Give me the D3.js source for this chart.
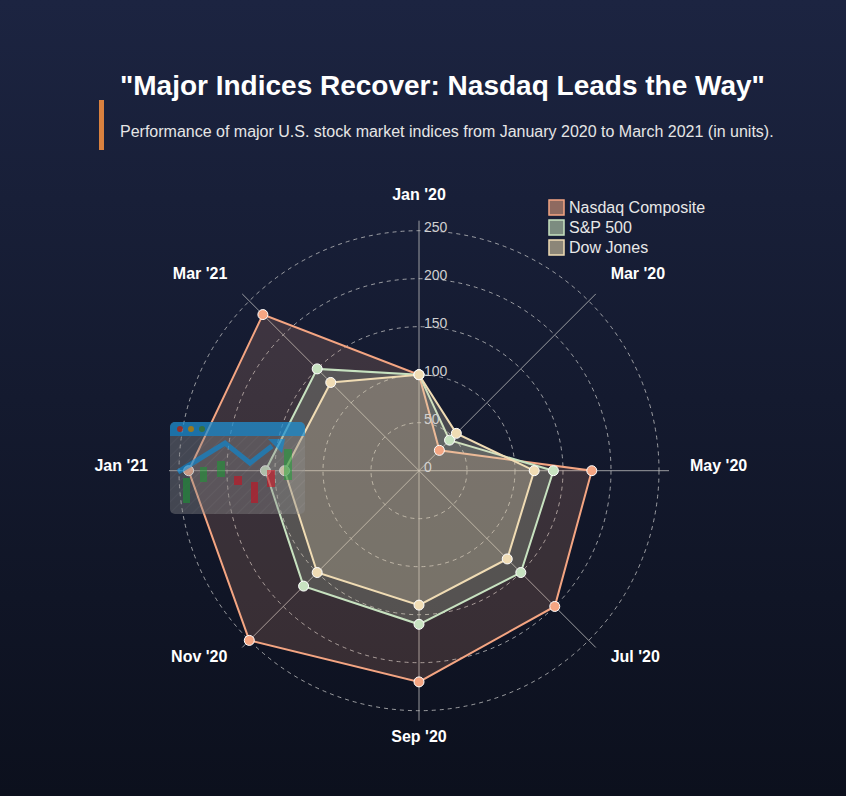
<!DOCTYPE html>
<html>
<head>
<meta charset="utf-8">
<script src="https://cdn.jsdelivr.net/npm/d3@7"></script>
<style>
  html, body { margin: 0; padding: 0; }
  body { width: 846px; height: 796px; overflow: hidden; font-family: "Liberation Sans", Arial, sans-serif; }
</style>
</head>
<body>
<script>
// chart data
const months = ["Jan '20", "Mar '20", "May '20", "Jul '20", "Sep '20", "Nov '20", "Jan '21", "Mar '21"];
const nasdaq = [100, 30, 180, 200, 220, 250, 240, 230];
const sp500 = [100, 45, 140, 150, 160, 170, 160, 150];
const dowJones = [100, 55, 120, 130, 140, 150, 140, 130];
const seriesNames = ["Nasdaq Composite", "S&P 500", "Dow Jones"];
const ringTicks = [0, 50, 100, 150, 200, 250];

function main() {
    const W = 846, H = 796;
    const cx = 419, cy = 470.7, R = 240;

    const svg = d3.select("body").append("svg")
        .attr("width", W)
        .attr("height", H);

    const defs = svg.append("defs");
    const bg = defs.append("linearGradient").attr("id", "bg")
        .attr("x1", 0).attr("y1", 0).attr("x2", 0).attr("y2", 1);
    bg.append("stop").attr("offset", "0%").attr("stop-color", "#1c2441");
    bg.append("stop").attr("offset", "100%").attr("stop-color", "#0c101d");

    const stripes = defs.append("pattern").attr("id", "stripes")
        .attr("width", 8).attr("height", 8)
        .attr("patternUnits", "userSpaceOnUse")
        .attr("patternTransform", "rotate(45)");
    stripes.append("rect").attr("width", 8).attr("height", 8).attr("fill", "#8a8a8a");
    stripes.append("line").attr("x1", 0).attr("y1", 0).attr("x2", 0).attr("y2", 8)
        .attr("stroke", "#9a9a9a").attr("stroke-width", 2);

    svg.append("rect").attr("width", W).attr("height", H).attr("fill", "url(#bg)");

    // title block
    svg.append("rect").attr("x", 99).attr("y", 100).attr("width", 5).attr("height", 50).attr("fill", "#d9813f");
    svg.append("text").attr("x", 120).attr("y", 95)
        .attr("fill", "#ffffff").attr("font-size", 28).attr("font-weight", "bold")
        .text("\"Major Indices Recover: Nasdaq Leads the Way\"");
    svg.append("text").attr("x", 120).attr("y", 137)
        .attr("fill", "#e6e6e6").attr("font-size", 16)
        .text("Performance of major U.S. stock market indices from January 2020 to March 2021 (in units).");

    const r = d3.scaleLinear().domain([0, 250]).range([0, R]);
    const angle = d3.scalePoint().domain(months).range([0, 2 * Math.PI * (months.length - 1) / months.length]);
    const px = (m, v) => cx + r(v) * Math.sin(angle(m));
    const py = (m, v) => cy - r(v) * Math.cos(angle(m));

    const g = svg.append("g");

    // rings
    g.selectAll("circle.ring")
        .data(ringTicks.filter(d => d > 0))
        .enter()
        .append("circle")
        .attr("class", "ring")
        .attr("cx", cx).attr("cy", cy)
        .attr("r", d => r(d))
        .attr("fill", "none")
        .attr("stroke", "#c8c8c8")
        .attr("stroke-opacity", 0.75)
        .attr("stroke-dasharray", "4,4");

    // spokes
    g.selectAll("line.spoke")
        .data(months)
        .enter()
        .append("line")
        .attr("class", "spoke")
        .attr("x1", cx).attr("y1", cy)
        .attr("x2", d => cx + (R + 10) * Math.sin(angle(d)))
        .attr("y2", d => cy - (R + 10) * Math.cos(angle(d)))
        .attr("stroke", "#bdbdbd")
        .attr("stroke-opacity", 0.8)
        .attr("stroke-width", 1);

    // series
    const series = [
        { name: seriesNames[0], values: nasdaq, stroke: "#f4a582", fill: "#f4a582", op: 0.18, legendFill: "#8e6a60" },
        { name: seriesNames[1], values: sp500, stroke: "#c7e2c0", fill: "#c7e2c0", op: 0.2, legendFill: "#7c8c80" },
        { name: seriesNames[2], values: dowJones, stroke: "#f0dcb4", fill: "#ecdab8", op: 0.24, legendFill: "#8c8678" }
    ];

    const line = d3.lineRadial()
        .angle((d, i) => angle(months[i]))
        .radius(d => r(d))
        .curve(d3.curveLinearClosed);

    series.forEach(s => {
        g.append("path")
            .attr("transform", `translate(${cx},${cy})`)
            .attr("d", line(s.values))
            .attr("fill", s.fill)
            .attr("fill-opacity", s.op)
            .attr("stroke", s.stroke)
            .attr("stroke-width", 2);
    });

    series.forEach(s => {
        g.selectAll(null)
            .data(s.values)
            .enter()
            .append("circle")
            .attr("cx", (d, i) => px(months[i], d))
            .attr("cy", (d, i) => py(months[i], d))
            .attr("r", 5)
            .attr("fill", s.stroke)
            .attr("stroke", "#ffffff")
            .attr("stroke-width", 1);
    });

    // tick labels
    g.selectAll("text.tick")
        .data(ringTicks)
        .enter()
        .append("text")
        .attr("x", cx + 5)
        .attr("y", d => cy - r(d) + 1)
        .attr("fill", "#d0d0d0")
        .attr("font-size", 14)
        .text(d => d);

    // month labels
    g.selectAll("text.month")
        .data(months)
        .enter()
        .append("text")
        .attr("x", d => cx + (R + 31) * Math.sin(angle(d)))
        .attr("y", d => cy - (R + 31) * Math.cos(angle(d)))
        .attr("text-anchor", d => {
            const s = Math.sin(angle(d));
            return s > 0.01 ? "start" : (s < -0.01 ? "end" : "middle");
        })
        .attr("fill", "#ffffff")
        .attr("font-size", 16)
        .attr("font-weight", "bold")
        .text(d => d);

    // legend
    const legend = svg.append("g").attr("transform", "translate(548,199)");
    series.forEach((s, i) => {
        legend.append("rect")
            .attr("x", 1).attr("y", i * 20 + 1)
            .attr("width", 15).attr("height", 15)
            .attr("fill", s.legendFill)
            .attr("stroke", s.stroke)
            .attr("stroke-width", 1.5);
        legend.append("text")
            .attr("x", 21).attr("y", i * 20 + 14)
            .attr("fill", "#e8e8e8")
            .attr("font-size", 16)
            .text(s.name);
    });

    // decorative chart icon near Jan '21
    const icon = svg.append("g").attr("transform", "translate(170,422)").attr("opacity", 0.75);
    icon.append("rect").attr("width", 135).attr("height", 92).attr("rx", 5)
        .attr("fill", "url(#stripes)").attr("fill-opacity", 0.55);
    icon.append("path")
        .attr("d", "M0,5 a5,5 0 0 1 5,-5 h125 a5,5 0 0 1 5,5 v9 h-135 z")
        .attr("fill", "#1f8fd0");
    [["#c0392b", 10], ["#c79a1c", 21], ["#3f8f4a", 32]].forEach(d => {
        icon.append("circle").attr("cx", d[1]).attr("cy", 7).attr("r", 3).attr("fill", d[0]);
    });
    const candles = [
        [13, 56, 7, 25, "#2f9e44"], [30, 45, 7, 15, "#2f9e44"], [47, 39, 8, 16, "#2f9e44"],
        [64, 54, 8, 9, "#d0202f"], [81, 60, 7, 21, "#d0202f"], [97, 48, 8, 17, "#d0202f"],
        [114, 27, 8, 31, "#2f9e44"]
    ];
    candles.forEach(c => {
        icon.append("rect").attr("x", c[0]).attr("y", c[1]).attr("width", c[2]).attr("height", c[3])
            .attr("fill", c[4]).attr("opacity", 0.85);
    });
    icon.append("polyline")
        .attr("points", "8,50 55,21 80,41 102,24")
        .attr("fill", "none").attr("stroke", "#1f8fd0").attr("stroke-width", 5);
    icon.append("polygon")
        .attr("points", "98,17 115,17 112,31")
        .attr("fill", "#1f8fd0");
}
main();
</script>
</body>
</html>
